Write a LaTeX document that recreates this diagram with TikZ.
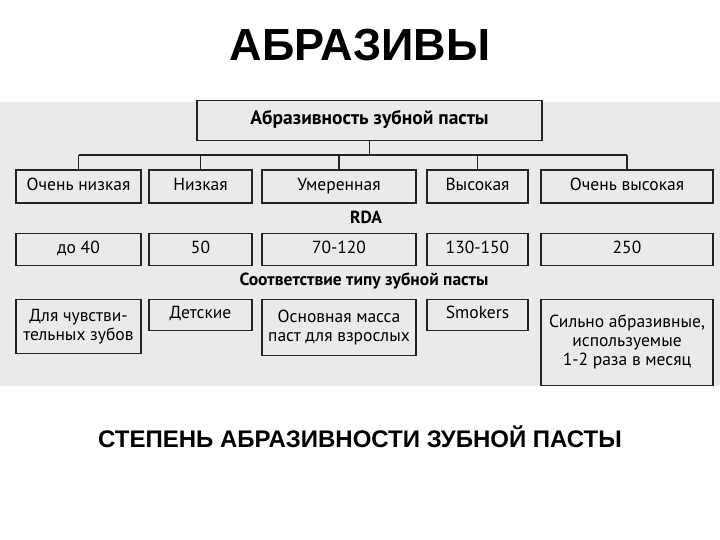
\documentclass[tikz,border=0pt]{standalone}
\usepackage{fontspec}
\setmainfont{Liberation Sans}
\newfontfamily\scanfont{PT Sans}
\usepackage{tikz}
\usetikzlibrary{positioning}
\definecolor{scangray}{RGB}{234,234,234}
\definecolor{inkgray}{RGB}{35,35,35}

\begin{document}
\begin{tikzpicture}[
    x=1pt, y=-1pt,
    node distance=29pt,
    level/.style={rectangle, draw=inkgray, line width=1.2pt, fill=scangray, align=center, minimum height=33pt, inner sep=2pt, font=\scanfont\fontsize{17.5}{19}\selectfont},
    oneline/.style={text height=12.5pt, text depth=4.5pt},
    rootbox/.style={level, oneline, minimum width=345pt, minimum height=40pt, font=\scanfont\bfseries\fontsize{19.5}{22}\selectfont},
    rowlabel/.style={font=\scanfont\bfseries\fontsize{17.5}{20}\selectfont, inner sep=1pt},
    heading/.style={font=\bfseries\fontsize{45}{50}\selectfont},
    caption/.style={font=\bfseries\fontsize{24}{28}\selectfont},
    wire/.style={draw=inkgray, line width=1.2pt}
]
\useasboundingbox (0,0) rectangle (720,540);
\fill[white] (0,0) rectangle (720,540);
\fill[scangray] (0,102) rectangle (720,386);

\node[heading] (title) at (360,45) {АБРАЗИВЫ};

% abrasiveness levels
\node[rootbox] (root) at (369.5,120.5) {Абразивность зубной пасты};
\node[level, oneline, minimum width=125pt] (lvlA) at (78.5,186.5) {Очень низкая};
\node[level, oneline, minimum width=103pt] (lvlB) at (200.5,186.5) {Низкая};
\node[level, oneline, minimum width=154pt] (lvlC) at (339,186.5) {Умеренная};
\node[level, oneline, minimum width=101pt] (lvlD) at (477.5,186.5) {Высокая};
\node[level, oneline, minimum width=172pt] (lvlE) at (627,186.5) {Очень высокая};
\coordinate (bus) at (369.5,155);

% RDA values
\node[rowlabel] (rda) at (366,217) {RDA};
\node[level, oneline, minimum width=125pt, minimum height=32pt, below=of lvlA] (rdaA) {до 40};
\node[level, oneline, minimum width=103pt, minimum height=32pt, below=of lvlB] (rdaB) {50};
\node[level, oneline, minimum width=154pt, minimum height=32pt, below=of lvlC] (rdaC) {70-120};
\node[level, oneline, minimum width=101pt, minimum height=32pt, below=of lvlD] (rdaD) {130-150};
\node[level, oneline, minimum width=172pt, minimum height=32pt, below=of lvlE] (rdaE) {250};

% paste types
\node[rowlabel] (kind) at (364,281) {Соответствие типу зубной пасты};
\node[level, minimum width=125pt, minimum height=54pt, below=33pt of rdaA] (useA) {Для чувстви-\\тельных зубов};
\node[level, oneline, minimum width=103pt, minimum height=31pt, below=33pt of rdaB] (useB) {Детские};
\node[level, minimum width=154pt, minimum height=56pt, below=33pt of rdaC] (useC) {Основная масса\\паст для взрослых};
\node[level, oneline, minimum width=101pt, minimum height=31pt, below=33pt of rdaD] (useD) {Smokers};
\node[level, minimum width=172pt, minimum height=86pt, below=33pt of rdaE] (useE) {Сильно абразивные,\\используемые\\1-2 раза в месяц};

\node[caption] (sub) at (360,437) {СТЕПЕНЬ АБРАЗИВНОСТИ ЗУБНОЙ ПАСТЫ};

\draw[wire] (root.south) -- (root.south |- bus);
\draw[wire] (lvlA.north |- bus) -- (lvlE.north |- bus);
\foreach \n in {lvlA,lvlB,lvlC,lvlD,lvlE}
    \draw[wire] (\n.north |- bus) -- (\n.north);
\end{tikzpicture}
\end{document}
